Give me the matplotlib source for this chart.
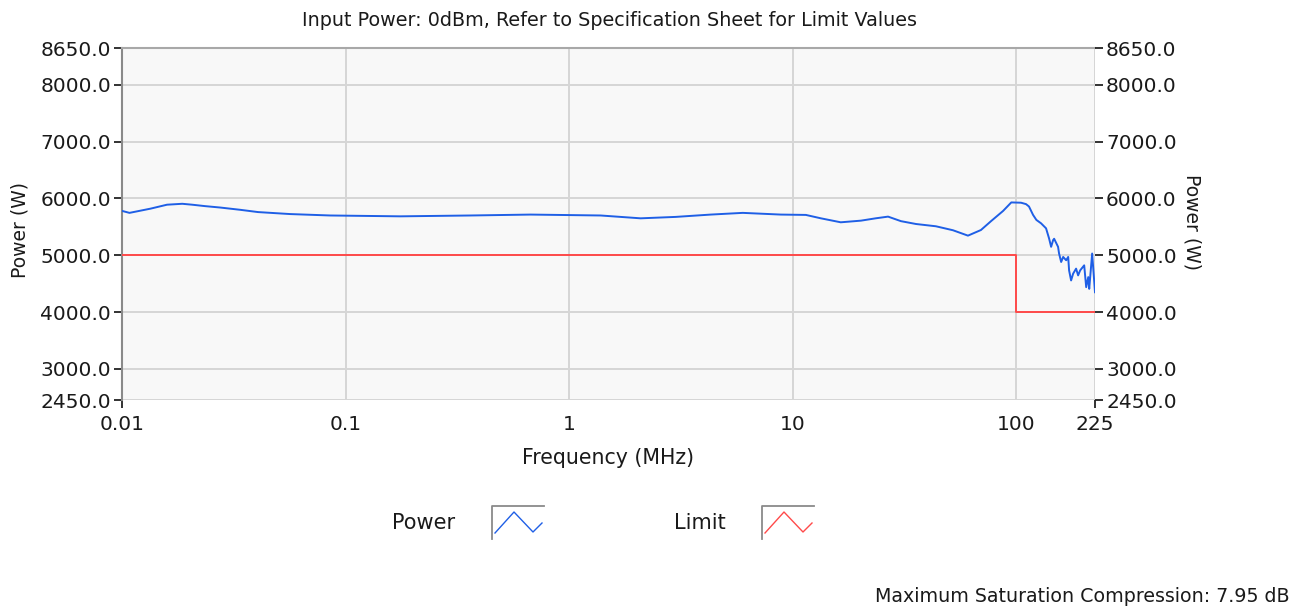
import matplotlib
matplotlib.use("Agg")
import matplotlib.pyplot as plt
from matplotlib.lines import Line2D

# measured output power across the band (MHz, W)
freq_mhz = [
    0.0100, 0.0108, 0.0134, 0.0159, 0.0186, 0.0206, 0.0235, 0.0275, 0.0338,
    0.0406, 0.0565, 0.0854, 0.1758, 0.3617, 0.6714, 1.383, 2.088, 2.995,
    4.298, 5.98, 8.85, 11.45, 13.37, 16.4, 20.2, 23.5, 26.7, 30.5, 35.6,
    43.7, 52.1, 60.8, 69.5, 77.1, 87.3, 95.0, 105.0, 110.6, 114.0, 118.9,
    123.0, 129.1, 135.9, 140.2, 143.2, 146.2, 147.7, 153.8, 155.4, 158.8,
    162.1, 167.2, 170.7, 172.3, 175.9, 179.6, 185.2, 189.1, 193.1, 201.3,
    205.5, 209.9, 212.0, 218.5, 223.0, 225.0,
]
power_w = [
    5781, 5746, 5820, 5890, 5906, 5890, 5865, 5840, 5800,
    5760, 5725, 5700, 5685, 5700, 5716, 5700, 5650, 5675,
    5716, 5746, 5716, 5710, 5650, 5580, 5609, 5650, 5680, 5600, 5550,
    5510, 5440, 5345, 5444, 5600, 5780, 5930, 5925, 5900, 5858, 5710,
    5622, 5562, 5474, 5296, 5148, 5267, 5290, 5148, 5030, 4881,
    4970, 4911, 4970, 4733, 4556, 4675, 4764, 4645, 4733, 4822,
    4437, 4615, 4408, 5030, 4556, 4348,
]

# specification limit (step down at 100 MHz)
limit_freq = [0.01, 100, 100, 225]
limit_w = [5000, 5000, 4000, 4000]

x_ticks = [0.01, 0.1, 1, 10, 100, 225]
x_tick_labels = ["0.01", "0.1", "1", "10", "100", "225"]
y_ticks = [2450, 3000, 4000, 5000, 6000, 7000, 8000, 8650]

W, H = 1304, 608
fig = plt.figure(figsize=(W / 100, H / 100), dpi=100)
fig.patch.set_facecolor("white")


def fx(px):
    return px / W


def fy(py):
    return 1 - py / H


ax = fig.add_axes([fx(122), fy(400), fx(1095) - fx(122), fy(48) - fy(400)])
ax.set_facecolor("#f8f8f8")
ax.set_xscale("log")
ax.set_xlim(0.01, 225)
ax.set_ylim(2450, 8650)

ax.plot(freq_mhz, power_w, color="#1f5fe6", lw=1.4, zorder=3)
ax.plot(limit_freq, limit_w, color="#ff4a4a", lw=1.4, zorder=3)

ax.set_xticks(x_ticks)
ax.set_xticklabels(x_tick_labels)
ax.minorticks_off()
ax.set_yticks(y_ticks)
ax.set_yticklabels([f"{v:.1f}" for v in y_ticks])
ax.grid(True, color="#d6d6d6", lw=1.4, zorder=0)
ax.set_axisbelow(True)

for side in ("right", "bottom"):
    ax.spines[side].set_visible(False)
ax.spines["left"].set_color("#8a8a8a")
ax.spines["left"].set_linewidth(1.5)
ax.spines["top"].set_color("#a8a8a8")
ax.spines["top"].set_linewidth(1.5)

tick_fs = 14.5
ax.tick_params(axis="y", direction="out", length=6, width=1.3, color="#222222",
               labelsize=tick_fs, pad=2, labelcolor="#1a1a1a")
ax.tick_params(axis="x", direction="out", length=6, width=1.3, color="#222222",
               labelsize=tick_fs, pad=5, labelcolor="#1a1a1a")
# only the end ticks are marked on the frequency scale
for i, t in enumerate(ax.xaxis.get_major_ticks()):
    if i not in (0, len(x_ticks) - 1):
        t.tick1line.set_visible(False)

ax2 = ax.twinx()
ax2.set_ylim(ax.get_ylim())
ax2.set_yticks(y_ticks)
ax2.set_yticklabels([f"{v:.1f}" for v in y_ticks])
for side in ("left", "right", "top", "bottom"):
    ax2.spines[side].set_visible(False)
ax2.tick_params(axis="y", direction="out", length=6, width=1.3, color="#222222",
                labelsize=tick_fs, pad=2, labelcolor="#1a1a1a")

ax.set_xlabel("Frequency (MHz)", fontsize=14.8, labelpad=10, color="#1a1a1a")
fig.text(fx(20), fy(230), "Power (W)", rotation=90, ha="center", va="center",
         fontsize=13.5, color="#1a1a1a")
fig.text(fx(1192), fy(222), "Power (W)", rotation=-90, ha="center", va="center",
         fontsize=13.5, color="#1a1a1a")

fig.text(fx(610), fy(20), "Input Power: 0dBm, Refer to Specification Sheet for Limit Values",
         ha="center", va="center", fontsize=13.8, color="#1a1a1a")
fig.text(fx(1290), fy(597), "Maximum Saturation Compression: 7.95 dB",
         ha="right", va="center", fontsize=13.7, color="#1a1a1a")

# legend entries drawn as plain figure artists
legend_items = [("Power", 424, 492, "#1f5fe6"), ("Limit", 700, 762, "#ff4a4a")]
for name, tx, bx, col in legend_items:
    fig.text(fx(tx), fy(523), name, ha="center", va="center", fontsize=15,
             color="#1a1a1a")
    fig.add_artist(Line2D([fx(bx), fx(bx), fx(bx + 52)], [fy(539), fy(506), fy(506)],
                          transform=fig.transFigure, color="#8a8a8a", lw=1.3))
    fig.add_artist(Line2D([fx(bx + 3), fx(bx + 22), fx(bx + 41), fx(bx + 50)],
                          [fy(533), fy(512), fy(532), fy(523)],
                          transform=fig.transFigure, color=col, lw=1.0))

fig.savefig("out.png", dpi=100, facecolor="white")
